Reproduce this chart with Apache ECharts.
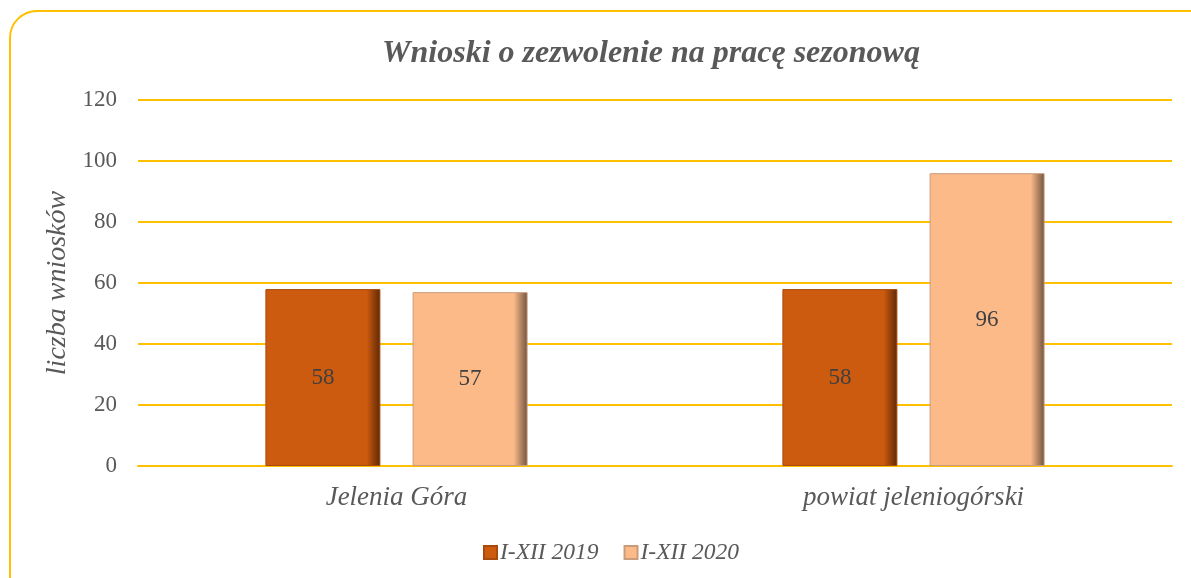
<!DOCTYPE html>
<html>
<head>
<meta charset="utf-8">
<script src="https://cdn.jsdelivr.net/npm/echarts@6/dist/echarts.min.js"></script>
<style>
  html, body { margin: 0; padding: 0; background: #fff; overflow: hidden; }
  #frame {
    position: absolute;
    left: 9px;
    top: 10px;
    width: 1220px;
    height: 620px;
    border: 2px solid #FFC000;
    border-radius: 28px;
    box-sizing: border-box;
  }
  #chart { position: absolute; left: 0; top: 0; width: 1191px; height: 578px; }
</style>
</head>
<body>
<div id="frame"></div>
<div id="chart"></div>
<script>
const categories = ['Jelenia Góra', 'powiat jeleniogórski']
const seriesNames = ['I-XII 2019', 'I-XII 2020']
const values2019 = [58, 58]
const values2020 = [57, 96]
const yTicks = [0, 20, 40, 60, 80, 100, 120]

const font = "'Liberation Serif', 'Times New Roman', serif"

const bevel = (base, dark) => ({
  type: 'linear', x: 0, y: 0, x2: 1, y2: 0,
  colorStops: [
    { offset: 0, color: base },
    { offset: 0.88, color: base },
    { offset: 1, color: dark }
  ]
})

const chart = echarts.init(document.getElementById('chart'))

const option = {
  backgroundColor: 'transparent',
  animation: false,
  title: {
    text: 'Wnioski o zezwolenie na pracę sezonową',
    left: 646,
    top: 33,
    textAlign: 'center',
    textStyle: {
      fontFamily: font,
      fontStyle: 'italic',
      fontWeight: 'bold',
      fontSize: 32,
      color: '#595959'
    }
  },
  legend: {
    data: seriesNames,
    left: 478,
    top: 536,
    itemWidth: 13,
    itemHeight: 13,
    itemGap: 25,
    icon: 'rect',
    textStyle: {
      fontFamily: font,
      fontStyle: 'italic',
      fontSize: 23.5,
      color: '#595959',
      padding: [0, 0, 0, -2]
    }
  },
  grid: {
    left: 138,
    right: 19,
    top: 100,
    bottom: 112
  },
  xAxis: {
    type: 'category',
    data: categories,
    axisLine: { lineStyle: { color: '#FFC000', width: 2 } },
    axisTick: { show: false },
    axisLabel: {
      margin: 18,
      fontFamily: font,
      fontStyle: 'italic',
      fontSize: 27,
      color: '#595959'
    }
  },
  yAxis: {
    type: 'value',
    min: yTicks[0],
    max: yTicks[yTicks.length - 1],
    interval: 20,
    name: 'liczba wniosków',
    nameLocation: 'middle',
    nameGap: 60,
    nameTextStyle: {
      fontFamily: font,
      fontStyle: 'italic',
      fontSize: 28,
      color: '#595959'
    },
    axisLine: { show: false },
    axisTick: { show: false },
    axisLabel: {
      margin: 21,
      fontFamily: font,
      fontSize: 23,
      color: '#595959'
    },
    splitLine: { lineStyle: { color: '#FFC000', width: 2 } }
  },
  series: [
    {
      name: seriesNames[0],
      type: 'bar',
      data: values2019,
      barWidth: 115,
      barGap: '28%',
      itemStyle: {
        color: bevel('#CC5A0F', '#5E2806'),
        borderColor: '#A84A0C',
        borderWidth: 1
      },
      label: {
        show: true,
        position: 'inside',
        fontFamily: font,
        fontSize: 23,
        color: '#404040'
      }
    },
    {
      name: seriesNames[1],
      type: 'bar',
      data: values2020,
      barWidth: 115,
      itemStyle: {
        color: bevel('#FCBA89', '#6E5240'),
        borderColor: '#C99C7C',
        borderWidth: 1
      },
      label: {
        show: true,
        position: 'inside',
        fontFamily: font,
        fontSize: 23,
        color: '#404040'
      }
    }
  ]
}

chart.setOption(option)
</script>
</body>
</html>
